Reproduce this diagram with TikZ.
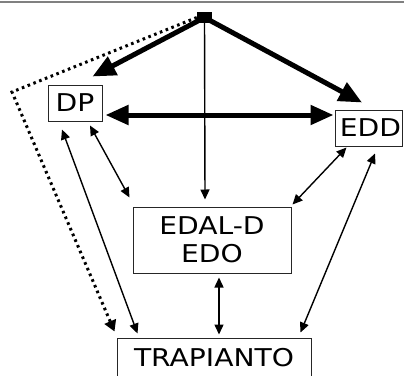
\documentclass[tikz,border=0pt]{standalone}
\usepackage{fontspec}
\newfontfamily\handfont[FakeStretch=1.15]{DejaVu Sans}
\usetikzlibrary{arrows.meta,calc}
\tikzset{
  box/.style={draw=black!85, line width=1pt, rectangle, inner sep=0pt, font=\handfont\fontsize{24.5}{28}\selectfont, align=center},
  thinarrow/.style={line width=1.4pt, {Triangle[length=10pt,width=9pt]}-{Triangle[length=10pt,width=9pt]}},
  thinone/.style={line width=1.4pt, -{Triangle[length=10pt,width=9pt]}},
  thickarrow/.style={line width=5pt, -{Triangle[length=23pt,width=20pt]}},
  thickboth/.style={line width=5pt, {Triangle[length=23pt,width=19pt]}-{Triangle[length=23pt,width=19pt]}},
  dotarrow/.style={line width=3pt, line cap=butt, dash pattern=on 2.6pt off 3.6pt, -{Triangle[length=11pt,width=12pt]}}
}
\begin{document}
\begin{tikzpicture}[x=1pt,y=-1pt]
\useasboundingbox (0,0) rectangle (404,375);
\clip (0,0) rectangle (404,375);
\fill[white] (0,0) rectangle (404,375);
\draw[gray, line width=2pt] (0,2) -- (404,2);
\node[fill=black, inner sep=0pt, minimum width=15pt, minimum height=11pt] (top) at (204.5,17.5) {};
\node[box, minimum width=54pt, minimum height=36pt] (dp) at (75,103) {DP};
\node[box, minimum width=67pt, minimum height=36pt] (edd) at (368.5,128) {\hspace*{4pt}EDD};
\node[box, minimum width=158pt, minimum height=66pt] (edal) at (212,240) {EDAL-D\\EDO};
\node[box, minimum width=194pt, minimum height=40pt] (trap) at (214,358) {TRAPIANTO};
\coordinate (corner) at (12,92);
% thick arrows
\draw[thickarrow] (top.center) -- ($(dp.north east)+(-10,-8)$);
\draw[thickarrow] (top.center) -- ($(edd.north)+(-6.5,-7)$);
\draw[thickboth] ($(dp.east)+(3,12)$) -- ($(edd.west)+(-1,-13)$);
% vertical
\draw[thinone] (top.center) -- ($(edal.north)+(-7,-7)$);
% dotted
\draw[dotarrow] (top.west) -- (corner) -- ($(trap.north west)+(-2,-6)$);
% thin double arrows
\draw[thinarrow] ($(dp.south)+(15,4)$) -- ($(edal.north west)+(-3,-9)$);
\draw[thinarrow] ($(dp.south)+(-13,8)$) -- ($(trap.north west)+(21,-4)$);
\draw[thinarrow] ($(edd.south west)+(12,1)$) -- ($(edal.north east)+(1,-2)$);
\draw[thinarrow] ($(edd.south)+(6.5,7)$) -- ($(trap.north east)+(-11,-5)$);
\draw[thinarrow] ($(edal.south)+(7,4)$) -- ($(trap.north)+(5,-3)$);
\end{tikzpicture}
\end{document}
